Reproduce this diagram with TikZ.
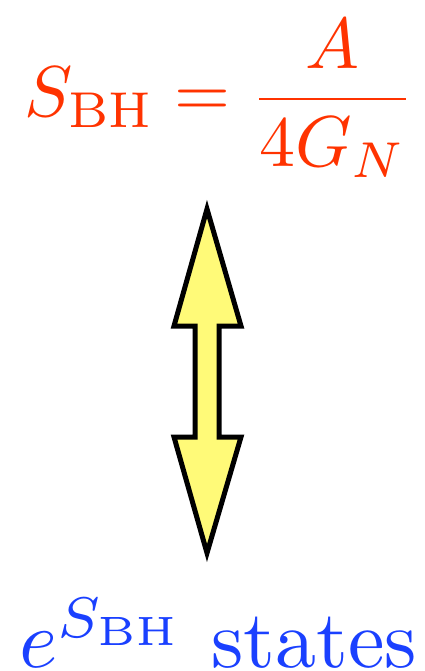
\documentclass[tikz,border=0pt]{standalone}
\definecolor{eqred}{RGB}{255,51,0}
\definecolor{stblue}{RGB}{26,64,255}
\definecolor{arrowyellow}{RGB}{255,250,120}
\begin{document}
\begin{tikzpicture}[x=1pt,y=-1pt,
  eqtext/.style={inner sep=0pt,outer sep=0pt,anchor=base west},
  bigarrow/.style={draw=black,line width=5pt,fill=arrowyellow,line join=miter,miter limit=10}]
\useasboundingbox (0,0) rectangle (424,671);
\node[eqtext,text=eqred,scale=7.2] (top) at (24,117)
  {$\displaystyle S_{\mathrm{BH}}=\frac{A}{4G_N}$};
\node[eqtext,text=stblue,scale=8.2] (bottom) at (19,667)
  {$e^{S_{\mathrm{BH}}}$ states};
\coordinate (tiptop) at (207,209);
\coordinate (tipbot) at (207,553);
\draw[bigarrow] (tiptop) -- (241,326) -- (219,326) -- (219,437) -- (241,437)
  -- (tipbot) -- (174,437) -- (195,437) -- (195,326) -- (174,326) -- cycle;
\end{tikzpicture}
\end{document}
